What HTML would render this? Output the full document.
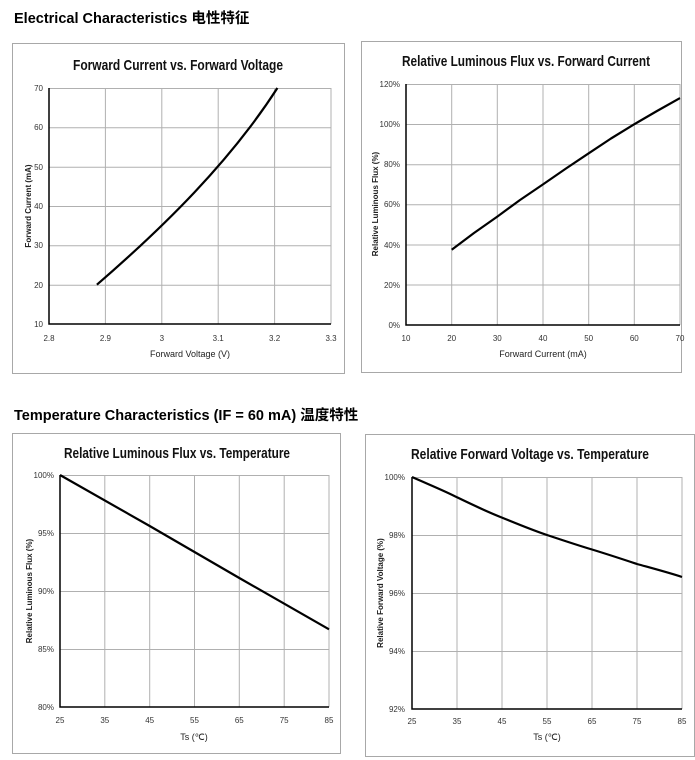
<!DOCTYPE html>
<html><head><meta charset="utf-8"><style>
html,body{margin:0;padding:0;background:#fff;width:695px;height:760px;overflow:hidden}
svg{display:block}
.h{font-family:"Liberation Sans","Noto Sans CJK SC",sans-serif;font-weight:bold;font-size:14.5px;fill:#000}
.t{font-family:"Liberation Sans Narrow","Liberation Sans",sans-serif;font-size:15px;font-weight:bold;fill:#111;font-stretch:condensed}
.tk{font-family:"Liberation Sans Narrow","Liberation Sans",sans-serif;font-size:8px;fill:#333}
.al{font-family:"Liberation Sans Narrow","Liberation Sans",sans-serif;font-size:9px;fill:#222}
.yl{font-family:"Liberation Sans",sans-serif;font-size:8px;font-weight:bold;fill:#222}
.g{stroke:#b0b0b0;stroke-width:1;fill:none}
.box{stroke:#a8a8a8;stroke-width:1;fill:#fff}
.ax{stroke:#000;stroke-width:1.5;fill:none}
.c{stroke:#000;stroke-width:2.2;fill:none;stroke-linejoin:round}
</style></head><body>
<svg width="695" height="760" viewBox="0 0 695 760" xmlns="http://www.w3.org/2000/svg">
<text class="h" x="14" y="23">Electrical Characteristics  电性特征</text>
<text class="h" x="14" y="420">Temperature Characteristics (IF = 60 mA)  温度特性</text>

<!-- Chart 1 -->
<rect class="box" x="12.5" y="43.5" width="332" height="330"/>
<text class="t" x="178" y="70" text-anchor="middle" textLength="210" lengthAdjust="spacingAndGlyphs">Forward Current vs. Forward Voltage</text>
<g class="g">
<path d="M49 88.5H331M49 127.8H331M49 167.2H331M49 206.5H331M49 245.8H331M49 285.2H331"/>
<path d="M105.4 88V324M161.8 88V324M218.2 88V324M274.6 88V324M331 88V324"/>
</g>
<path class="ax" d="M49 88V324H331"/>
<g class="tk" text-anchor="end">
<text x="43" y="91">70</text><text x="43" y="130">60</text><text x="43" y="170">50</text><text x="43" y="209">40</text><text x="43" y="248">30</text><text x="43" y="288">20</text><text x="43" y="327">10</text>
</g>
<g class="tk" text-anchor="middle">
<text x="49" y="341">2.8</text><text x="105.4" y="341">2.9</text><text x="161.8" y="341">3</text><text x="218.2" y="341">3.1</text><text x="274.6" y="341">3.2</text><text x="331" y="341">3.3</text>
</g>
<text class="al" x="190" y="357" text-anchor="middle">Forward Voltage (V)</text>
<text class="yl" transform="translate(31,206) rotate(-90)" text-anchor="middle">Forward Current (mA)</text>
<path class="c" d="M96.9 284.7 C163.5 227,229.9 162,277.4 88"/>

<!-- Chart 2 -->
<rect class="box" x="361.5" y="41.5" width="320" height="331"/>
<text class="t" x="526" y="66" text-anchor="middle" textLength="248" lengthAdjust="spacingAndGlyphs">Relative Luminous Flux vs. Forward Current</text>
<g class="g">
<path d="M406 84.5H680M406 124.5H680M406 164.7H680M406 204.8H680M406 245H680M406 285H680"/>
<path d="M451.7 84V325M497.3 84V325M543 84V325M588.7 84V325M634.3 84V325M680 84V325"/>
</g>
<path class="ax" d="M406 84V325H680"/>
<g class="tk" text-anchor="end">
<text x="400" y="87">120%</text><text x="400" y="127">100%</text><text x="400" y="167">80%</text><text x="400" y="207">60%</text><text x="400" y="248">40%</text><text x="400" y="288">20%</text><text x="400" y="328">0%</text>
</g>
<g class="tk" text-anchor="middle">
<text x="406" y="341">10</text><text x="451.7" y="341">20</text><text x="497.3" y="341">30</text><text x="543" y="341">40</text><text x="588.7" y="341">50</text><text x="634.3" y="341">60</text><text x="680" y="341">70</text>
</g>
<text class="al" x="543" y="357" text-anchor="middle">Forward Current (mA)</text>
<text class="yl" transform="translate(378,204) rotate(-90)" text-anchor="middle">Relative Luminous Flux (%)</text>
<path class="c" d="M451.7 249.7 L474 233 L497.3 216.6 L520 200 L543 184.4 L566 168.5 L588.7 153.3 L611 138.5 L634.3 124.2 L657 111 L680 98.1"/>

<!-- Chart 3 -->
<rect class="box" x="12.5" y="433.5" width="328" height="320"/>
<text class="t" x="177" y="458" text-anchor="middle" textLength="226" lengthAdjust="spacingAndGlyphs">Relative Luminous Flux vs. Temperature</text>
<g class="g">
<path d="M60 475.5H329M60 533.5H329M60 591.5H329M60 649.5H329"/>
<path d="M104.8 475V707M149.7 475V707M194.5 475V707M239.3 475V707M284.2 475V707M329 475V707"/>
</g>
<path class="ax" d="M60 475V707H329"/>
<g class="tk" text-anchor="end">
<text x="54" y="478">100%</text><text x="54" y="536">95%</text><text x="54" y="594">90%</text><text x="54" y="652">85%</text><text x="54" y="710">80%</text>
</g>
<g class="tk" text-anchor="middle">
<text x="60" y="723">25</text><text x="104.8" y="723">35</text><text x="149.7" y="723">45</text><text x="194.5" y="723">55</text><text x="239.3" y="723">65</text><text x="284.2" y="723">75</text><text x="329" y="723">85</text>
</g>
<text class="al" x="194" y="740" text-anchor="middle">Ts (℃)</text>
<text class="yl" transform="translate(32,591) rotate(-90)" text-anchor="middle">Relative Luminous Flux (%)</text>
<path class="c" d="M60 475 L149.7 526 L239.3 578 L329 629.3"/>

<!-- Chart 4 -->
<rect class="box" x="365.5" y="434.5" width="329" height="322"/>
<text class="t" x="530" y="459" text-anchor="middle" textLength="238" lengthAdjust="spacingAndGlyphs">Relative Forward Voltage vs. Temperature</text>
<g class="g">
<path d="M412 477.5H682M412 535.5H682M412 593.5H682M412 651.5H682"/>
<path d="M457 477V709M502 477V709M547 477V709M592 477V709M637 477V709M682 477V709"/>
</g>
<path class="ax" d="M412 477V709H682"/>
<g class="tk" text-anchor="end">
<text x="405" y="480">100%</text><text x="405" y="538">98%</text><text x="405" y="596">96%</text><text x="405" y="654">94%</text><text x="405" y="712">92%</text>
</g>
<g class="tk" text-anchor="middle">
<text x="412" y="724">25</text><text x="457" y="724">35</text><text x="502" y="724">45</text><text x="547" y="724">55</text><text x="592" y="724">65</text><text x="637" y="724">75</text><text x="682" y="724">85</text>
</g>
<text class="al" x="547" y="740" text-anchor="middle">Ts (℃)</text>
<text class="yl" transform="translate(383,593) rotate(-90)" text-anchor="middle">Relative Forward Voltage (%)</text>
<path class="c" d="M412 477 C430 485,445 491,457 497.3 C475 506,490 513,502 517.6 C520 525,535 531,547 535 C565 541,580 546,592 549.5 C610 555,625 560,637 564 C655 569,670 573,682 577"/>
</svg>
</body></html>
